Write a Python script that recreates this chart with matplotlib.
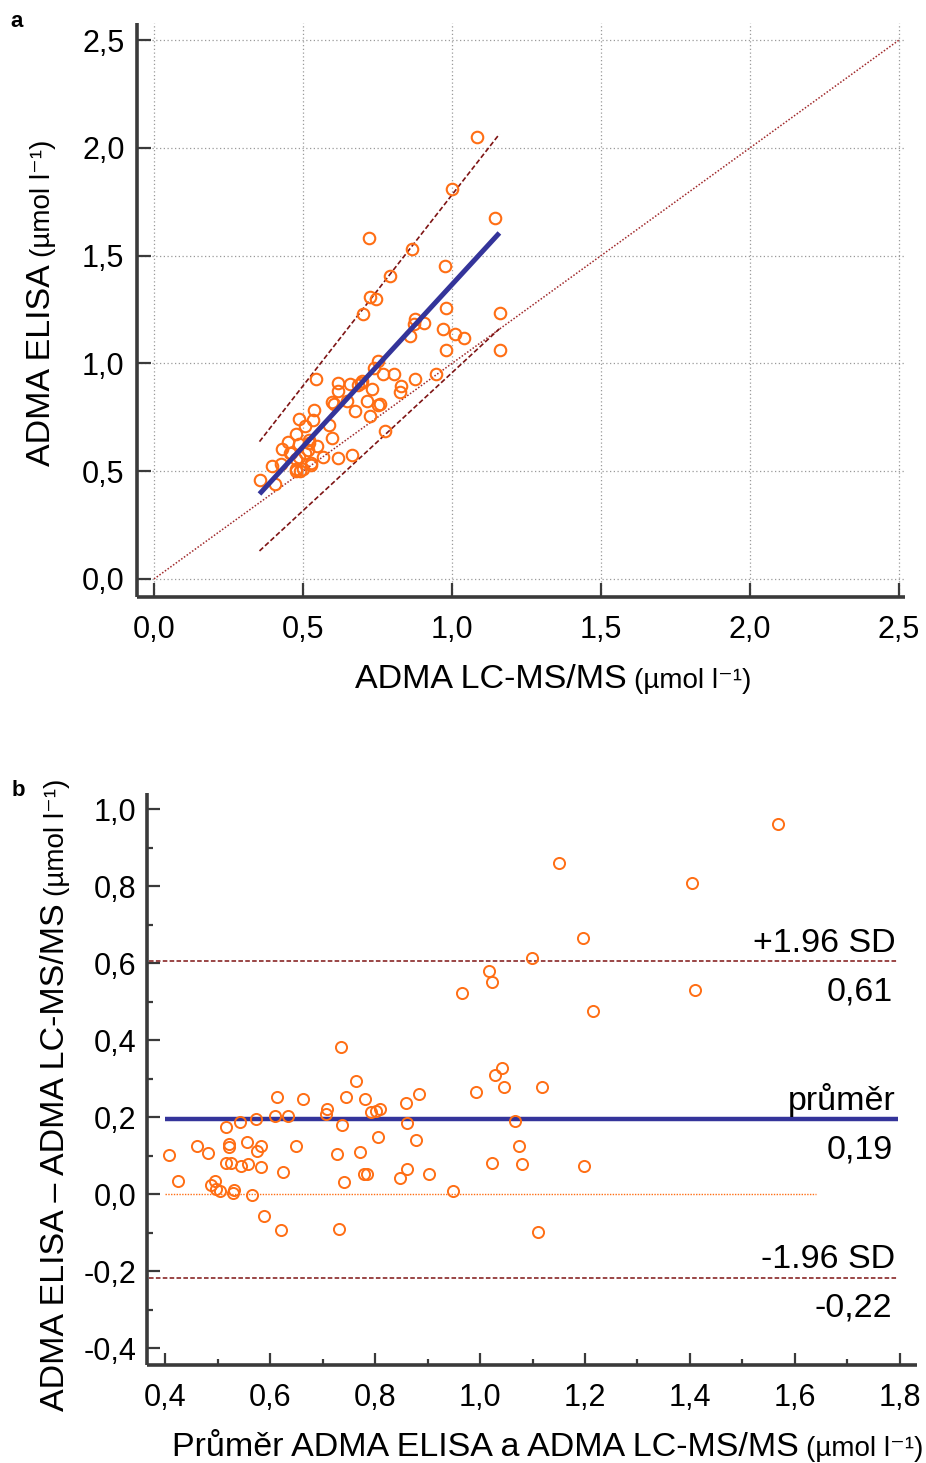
import matplotlib
matplotlib.use('Agg')
import matplotlib.pyplot as plt
import numpy as np
from matplotlib.ticker import FuncFormatter, FixedLocator

plt.rcParams['font.family'] = ['Liberation Sans', 'DejaVu Sans']

# ---- Data (Bland-Altman coordinates) ----
ba_mean = np.array([
    0.408, 0.424, 0.460, 0.481, 0.488, 0.495, 0.496, 0.505, 0.516, 0.521,
    0.521, 0.516, 0.526, 0.532, 0.529, 0.542, 0.545, 0.556, 0.558, 0.565,
    0.574, 0.582, 0.575, 0.583, 0.589, 0.613, 0.610, 0.625, 0.620, 0.635,
    0.650, 0.662, 0.709, 0.707, 0.735, 0.744, 0.737, 0.728, 0.740, 0.731,
    0.764, 0.781, 0.771, 0.792, 0.801, 0.810, 0.805, 0.778, 0.785, 0.858,
    0.860, 0.878, 0.861, 0.847, 0.883, 0.902, 0.949, 0.993, 1.028, 1.041,
    1.046, 1.119, 1.066, 1.074, 1.022, 1.080, 1.199, 1.111, 1.567, 1.151,
    1.404, 1.197, 1.099, 1.017, 1.022, 0.965, 1.410, 1.216])
ba_diff = np.array([
    0.102, 0.035, 0.126, 0.107, 0.025, 0.035, 0.013, 0.008, 0.176, 0.131,
    0.124, 0.082, 0.081, 0.011, 0.003, 0.188, 0.075, 0.136, 0.080, -0.002,
    0.195, 0.126, 0.113, 0.071, -0.055, 0.254, 0.204, 0.058, -0.092, 0.204,
    0.126, 0.248, 0.222, 0.209, 0.382, 0.254, 0.179, 0.104, 0.032, -0.090,
    0.294, 0.248, 0.110, 0.215, 0.216, 0.221, 0.148, 0.054, 0.054, 0.238,
    0.186, 0.142, 0.066, 0.042, 0.261, 0.052, 0.008, 0.266, 0.310, 0.329,
    0.280, 0.280, 0.191, 0.126, 0.081, 0.080, 0.074, -0.098, 0.963, 0.860,
    0.809, 0.665, 0.613, 0.581, 0.552, 0.524, 0.531, 0.476])

# ELISA and LC-MS/MS values follow from mean and difference
lcms = ba_mean - ba_diff / 2
elisa = ba_mean + ba_diff / 2

# Panel a lines
identity_x = np.array([0.0, 2.5])
reg_x = np.array([0.354, 1.159])
reg_intercept, reg_slope = -0.138, 1.504
upper_intercept, upper_slope = 0.010, 1.772
lower_intercept, lower_slope = -0.323, 1.28

# Panel b reference levels
mean_diff = 0.195
upper_loa = 0.605
lower_loa = -0.216
zero_line_x = np.array([0.40, 1.64])
mean_line_x = np.array([0.40, 1.796])
loa_line_x = np.array([0.37, 1.796])

ticks_a = [0.0, 0.5, 1.0, 1.5, 2.0, 2.5]
ticks_bx = [0.4, 0.6, 0.8, 1.0, 1.2, 1.4, 1.6, 1.8]
ticks_by = [-0.4, -0.2, 0.0, 0.2, 0.4, 0.6, 0.8, 1.0]
minor_bx = [0.5, 0.7, 0.9, 1.1, 1.3, 1.5, 1.7]
minor_by = [-0.3, -0.1, 0.1, 0.3, 0.5, 0.7, 0.9]

ORANGE = '#FF6E14'
BLUE = '#34349A'
DARKRED = '#7E1414'
IDRED = '#A0282A'
SPINE = '#3A3A3A'

fmt = FuncFormatter(lambda v, p: f'{round(v, 1) + 0.0:.1f}'.replace('.', ','))

fig = plt.figure(figsize=(9.26, 14.63), dpi=100)
W, H = 926, 1463

def style(ax):
    for s in ['top', 'right']:
        ax.spines[s].set_visible(False)
    for s in ['left', 'bottom']:
        ax.spines[s].set_linewidth(2.6)
        ax.spines[s].set_color(SPINE)
        ax.spines[s].set_capstyle('butt')
    ax.xaxis.set_major_formatter(fmt)
    ax.yaxis.set_major_formatter(fmt)

# ---------------- Panel a ----------------
axa = fig.add_axes([137 / W, 1 - 597 / H, (905 - 137) / W, (597 - 23) / H])
style(axa)
axa.set_xlim(-0.057, 2.520)
axa.set_ylim(-0.0835, 2.579)
axa.xaxis.set_major_locator(FixedLocator(ticks_a))
axa.yaxis.set_major_locator(FixedLocator(ticks_a))
axa.tick_params(axis='both', direction='in', length=10, width=1.6, color=SPINE,
                labelsize=22)
axa.tick_params(axis='x', pad=13)
axa.tick_params(axis='y', pad=9)
axa.grid(True, linestyle=(0, (1, 2)), color='#9A9A9A', linewidth=0.9)
axa.set_axisbelow(True)

axa.plot(identity_x, identity_x, linestyle=(0, (1, 1.2)), color=IDRED, linewidth=1.1)
axa.plot(reg_x, upper_intercept + upper_slope * reg_x, linestyle=(0, (3, 1.5)),
         color=DARKRED, linewidth=1.2)
axa.plot(reg_x, lower_intercept + lower_slope * reg_x, linestyle=(0, (3, 1.5)),
         color=DARKRED, linewidth=1.2)
axa.plot(lcms, elisa, 'o', markerfacecolor='none', markeredgecolor=ORANGE,
         markersize=8.3, markeredgewidth=1.5, zorder=3)
axa.plot(reg_x, reg_intercept + reg_slope * reg_x, color=BLUE, linewidth=3.6,
         solid_capstyle='butt', zorder=4)

LBL = 24.5
UNIT = 20

def hlabel(x_px, y_px, main, unit):
    t = fig.text(x_px / W, 1 - y_px / H, main, fontsize=LBL, ha='left', va='baseline')
    plt.annotate(unit, xy=(1, 0), xycoords=t, xytext=(5, 5.2),
                 textcoords='offset points', fontsize=UNIT,
                 ha='left', va='baseline', annotation_clip=False)
    return t

def vlabel(x_px, y_px, main, unit):
    t = fig.text(x_px / W, 1 - y_px / H, main, fontsize=LBL, rotation=90,
                 rotation_mode='anchor', ha='left', va='baseline')
    plt.annotate(unit, xy=(1, 1), xycoords=t, xytext=(-5.2, 5),
                 textcoords='offset points', fontsize=UNIT, rotation=90,
                 rotation_mode='anchor', ha='left', va='baseline',
                 annotation_clip=False)
    return t

fig.text(10 / W, 1 - 27 / H, 'a', fontsize=16, fontweight='bold', ha='left', va='baseline')
fig.text(12 / W, 1 - 796 / H, 'b', fontsize=16, fontweight='bold', ha='left', va='baseline')

hlabel(355, 688, 'ADMA LC-MS/MS', '(µmol l⁻¹)')
vlabel(50, 466, 'ADMA ELISA', '(µmol l⁻¹)')

# ---------------- Panel b ----------------
axb = fig.add_axes([147.3 / W, 1 - 1365 / H, (916.7 - 147.3) / W, (1365 - 792.7) / H])
style(axb)
axb.set_xlim(0.366, 1.832)
axb.set_ylim(-0.443, 1.043)
axb.xaxis.set_major_locator(FixedLocator(ticks_bx))
axb.yaxis.set_major_locator(FixedLocator(ticks_by))
axb.xaxis.set_minor_locator(FixedLocator(minor_bx))
axb.yaxis.set_minor_locator(FixedLocator(minor_by))
axb.tick_params(axis='both', which='major', direction='in', length=9, width=1.6,
                color=SPINE, labelsize=22)
axb.tick_params(axis='both', which='minor', direction='in', length=4.5, width=1.6,
                color=SPINE)
axb.tick_params(axis='x', which='major', pad=13)
axb.tick_params(axis='y', which='major', pad=8)

axb.plot(zero_line_x, [0, 0], linestyle=(0, (1, 1)), color=ORANGE, linewidth=1.0)
axb.plot(loa_line_x, [upper_loa, upper_loa], linestyle=(0, (3, 1.5)), color=DARKRED, linewidth=1.1)
axb.plot(loa_line_x, [lower_loa, lower_loa], linestyle=(0, (3, 1.5)), color=DARKRED, linewidth=1.1)
axb.plot(mean_line_x, [mean_diff, mean_diff], color=BLUE, linewidth=3.2,
         solid_capstyle='butt', zorder=2)
axb.plot(ba_mean, ba_diff, 'o', markerfacecolor='none', markeredgecolor=ORANGE,
         markersize=8.0, markeredgewidth=1.4, zorder=3)

ANN = 24.5
for level, top_text, bottom_text in [(upper_loa, '+1.96 SD', '0,61'),
                                      (mean_diff, 'průměr', '0,19'),
                                      (lower_loa, '-1.96 SD', '-0,22')]:
    axb.annotate(top_text, xy=(1.791, level), xytext=(0, 7), textcoords='offset points',
                 ha='right', va='baseline', fontsize=ANN)
    axb.annotate(bottom_text, xy=(1.786, level), xytext=(0, -28), textcoords='offset points',
                 ha='right', va='baseline', fontsize=ANN)

hlabel(172, 1456, 'Průměr ADMA ELISA a ADMA LC-MS/MS', '(µmol l⁻¹)')
vlabel(64, 1411, 'ADMA ELISA – ADMA LC-MS/MS', '(µmol l⁻¹)')

fig.savefig('out.png', dpi=100)
